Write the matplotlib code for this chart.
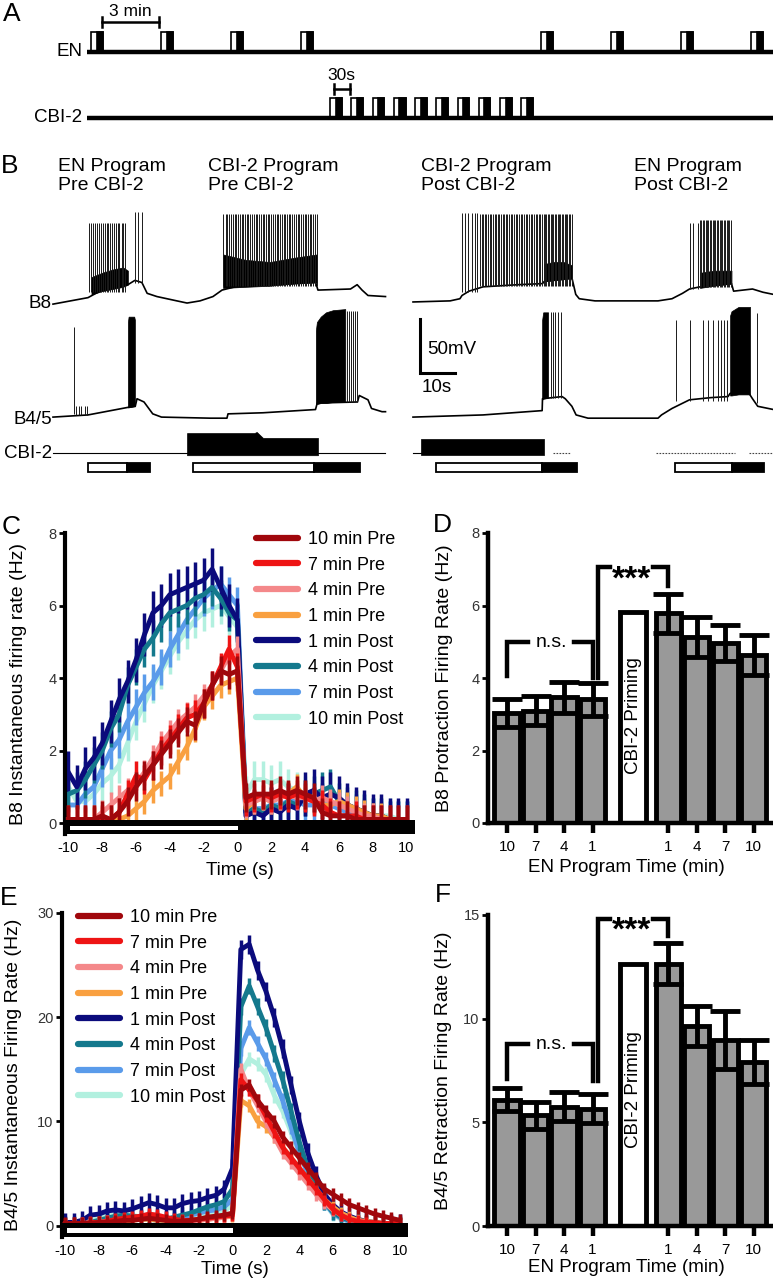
#!/usr/bin/env python3
import numpy as np
import matplotlib
matplotlib.use("Agg")
import matplotlib.pyplot as plt
from matplotlib.patches import Rectangle
from matplotlib.lines import Line2D

plt.rcParams["font.family"] = ["Liberation Sans", "DejaVu Sans"]
plt.rcParams["axes.unicode_minus"] = False

W, H = 773, 1280

# ---------------- Panel A: protocol (minutes) ----------------
EN_PULSES = [0, 3, 6, 9, 19.3, 22.3, 25.3, 28.3]
CBI2_PULSES = [10.25, 11.16, 12.07, 12.98, 13.89, 14.8, 15.71, 16.62, 17.53, 18.44]

# ---------------- Panel B: traces (s, mV) ----------------
# recording "pre" (left) and "post" (right)
B8_PRE_T = [0, 10, 13.4, 17.7, 21.4, 23.4, 25.4, 26.9, 29.7, 35.4, 38.3, 42, 45.7, 48.3, 52, 62,
            70.6, 75, 75.7, 85, 86.9, 88.3, 90, 95]
B8_PRE_V = [-61, -55, -49, -46, -43, -39, -41, -51, -54, -58, -60, -58, -54, -48, -45, -43,
            -41.5, -40.5, -48, -47, -43, -48, -53, -54]
B8_POST_T = [0, 10.6, 13.4, 14, 16, 20, 30, 37, 37.5, 45, 45.5, 46.5, 47.5, 52, 60, 70, 74, 77,
             79, 82, 91, 91.6, 97, 100, 103]
B8_POST_V = [-59, -58, -56, -53, -49, -45, -43, -42, -40, -37, -38, -52, -56, -58, -58, -58, -56,
             -51, -47, -45, -42, -49, -47, -50, -52]
B45_PRE_T = [0, 10, 21.4, 23.5, 24, 26, 28.5, 31, 45, 49.7, 50, 60, 75, 75.5, 87, 87.5, 90, 91,
             94, 95]
B45_PRE_V = [-60, -58, -51, -50, -43, -46, -57, -60, -61, -61, -57, -56, -53, -47, -46, -40, -44,
             -52, -55, -55]
B45_POST_T = [0, 20, 36.9, 37, 42.6, 43.5, 45.4, 46.6, 50, 70, 71, 74, 79, 85, 90, 90.6, 96, 97,
              98.5, 103]
B45_POST_V = [-60, -58, -54, -43, -41, -43, -50, -58, -61, -61, -58, -52, -44, -42, -41, -38, -38,
              -43, -50, -53]

# spike trains: (times, foot mV, peak mV)
B8_PRE_SPIKES = [
    ([10.3, 10.9, 11.5, 12.0, 12.6, 13.1, 13.7, 14.2, 14.8, 15.3, 15.8, 16.4, 16.9, 17.4, 18.0,
      18.5, 19.0, 19.6, 20.1, 20.6], -50, 14),
    ([23.4, 24.3, 25.4], -41, 24),
    ([48.7, 49.3, 49.8, 50.4, 50.9, 51.3, 51.9, 52.4, 52.8, 53.4, 53.9, 54.3, 54.9, 55.4, 55.8,
      56.4, 56.9, 57.3, 57.9, 58.4, 58.8, 59.4, 59.9, 60.3, 60.9, 61.4, 61.8, 62.4, 62.9, 63.3,
      63.9, 64.4, 64.8, 65.4, 65.9, 66.3, 66.9, 67.4, 67.8, 68.4, 68.9, 69.3, 69.9, 70.4, 70.8,
      71.4, 71.9, 72.3, 72.9, 73.4, 73.8, 74.4, 74.9, 75.3], -44, 22),
]
B8_POST_SPIKES = [
    ([14.0, 14.9, 15.7, 16.9, 17.7, 18.3], -50, 23),
    ([19.1, 19.6, 20.0, 20.5, 21.0, 21.4, 21.9, 22.4, 22.8, 23.3, 23.8, 24.2, 24.7, 25.2, 25.6,
      26.1, 26.6, 27.0, 27.5, 28.0, 28.4, 28.9, 29.4, 29.8, 30.3, 30.8, 31.2, 31.7, 32.2, 32.6,
      33.1, 33.6, 34.0, 34.5, 35.0, 35.4, 35.9, 36.4, 36.8, 37.3, 37.7, 38.1, 38.5, 38.9, 39.3,
      39.7, 40.1, 40.5, 40.9, 41.3, 41.7, 42.1, 42.5, 42.9, 43.3, 43.7, 44.1, 44.5, 44.9, 45.3],
     -44, 22),
    ([79.1, 80.1, 81.5], -47, 14),
    ([82.0, 82.4, 82.8, 83.2, 83.6, 84.0, 84.4, 84.8, 85.2, 85.6, 86.0, 86.4, 86.8, 87.2, 87.6,
      88.0, 88.4, 88.8, 89.2, 89.6, 90.0, 90.4, 90.8], -45, 17),
]
B45_PRE_SPIKES = [
    ([6.0], -57, 23),
    ([6.5, 7.3, 8.1, 9.0, 9.8], -58, -50),
    ([84.0, 84.6, 85.2, 85.8, 86.4, 86.9], -46, 38),
]
B45_POST_SPIKES = [
    ([39.3, 40.0, 40.6, 41.4, 42.3], -42, 37),
    ([75.1, 79.1, 82.9, 84.3, 85.7, 87.1, 88.0, 88.9, 89.7], -45, 30),
    ([98.3], -47, 36),
]
# dense firing drawn as solid blocks: (times, low mV, high mV)
B8_PRE_BLOCKS = [
    ([11, 14, 17, 20, 21.4], [-52, -49, -47, -45, -43], [-36, -32, -29, -27, -30]),
    ([48.6, 55, 62, 69, 75.4], [-46, -45, -44, -42, -41], [-15, -20, -22, -18, -15]),
]
B8_POST_BLOCKS = [
    ([37.4, 40, 43, 45.4], [-40, -39, -38, -37], [-24, -22, -22, -25]),
    ([82, 86, 91], [-46, -44, -42], [-32, -30, -30]),
]
B45_PRE_BLOCKS = [
    ([21.4, 21.6, 23.2, 23.4], [-51, -51, -50, -50], [28, 33, 33, 30]),
    ([75.1, 75.4, 76.5, 78, 80, 83.5], [-48, -48, -47, -47, -46, -46], [20, 28, 33, 37, 39, 40]),
]
B45_POST_BLOCKS = [
    ([36.9, 37.2, 38.6], [-44, -43, -42], [30, 37, 37]),
    ([90.6, 91, 93, 96.3], [-40, -40, -39, -39], [34, 38, 42, 42]),
]
CBI_PRE_BLOCK = ([38.3, 57.5, 58.2, 60, 75.7], [18.5, 18.5, 19.5, 14, 14])
CBI_POST_BLOCK = ([2.3, 37.4], [13, 13])
CBI_POST_FRAGMENTS = [(40, 45), (69.5, 92), (96, 103)]
# protraction (white) / retraction (black) phases: start, switch, end
STIM_PRE = [(10, 21.1, 27.7), (40, 74.6, 87.7)]
STIM_POST = [(6.6, 36.9, 46.9), (74.9, 91.1, 100.3)]

# ---------------- Panels C / E: firing rate time courses ----------------
TIME = np.arange(-10, 10.01, 0.5)
LABELS = ["10 min Pre", "7 min Pre", "4 min Pre", "1 min Pre",
          "1 min Post", "4 min Post", "7 min Post", "10 min Post"]
COLORS = ["#A0070C", "#EE1414", "#F4888A", "#F9A040",
          "#0B0B7C", "#14798D", "#5A9BEA", "#B2F0DF"]

C_PRE10 = [0.1, 0.1, 0.1, 0.1, 0.2, 0.1, 0.3, 0.6, 1.0, 1.3, 1.6, 1.9, 2.2, 2.5, 2.8, 2.7, 3.3, 3.8, 4.2, 4.1, 4.2,
           0.7, 0.8, 0.8, 0.8, 0.9, 0.8, 0.9, 0.8, 0.7, 0.3, 0.2, 0.2, 0.2, 0.1, 0.1, 0.1, 0.1, 0.1, 0.1, 0.1]
C_PRE7 = [0.1, 0.1, 0.1, 0.1, 0.1, 0.1, 0.3, 0.8, 1.3, 1.2, 1.6, 2.0, 2.3, 2.6, 2.9, 3.0, 3.3, 3.8, 4.3, 4.8, 4.3,
          0.6, 0.7, 0.8, 0.7, 0.8, 0.7, 0.8, 0.7, 0.6, 0.5, 0.3, 0.2, 0.2, 0.2, 0.1, 0.1, 0.1, 0.1, 0.1, 0.1]
C_PRE4 = [0.1, 0.1, 0.1, 0.1, 0.3, 0.5, 0.7, 0.9, 1.1, 1.4, 1.8, 2.2, 2.5, 2.8, 3.0, 3.2, 3.5, 3.8, 4.2, 4.6, 4.8,
          0.5, 0.6, 0.7, 0.6, 0.7, 0.8, 0.7, 0.7, 0.6, 0.7, 0.6, 0.5, 0.4, 0.3, 0.2, 0.2, 0.1, 0.1, 0.1, 0.1]
C_PRE1 = [0.1, 0.1, 0.1, 0.1, 0.1, 0.1, 0.1, 0.2, 0.4, 0.6, 0.9, 1.1, 1.3, 1.7, 2.1, 2.6, 3.2, 3.5, 3.8, 3.9, 4.0,
          0.4, 0.6, 0.7, 0.6, 0.7, 0.8, 1.0, 0.7, 0.6, 0.5, 0.5, 0.6, 0.5, 0.4, 0.3, 0.2, 0.2, 0.1, 0.1, 0.1]
C_POST1 = [1.4, 1.0, 1.5, 1.8, 2.2, 2.8, 3.4, 3.9, 4.5, 5.2, 5.8, 6.0, 6.3, 6.4, 6.5, 6.6, 6.7, 7.0, 6.5, 6.0, 5.6,
           0.2, 0.3, 0.2, 0.4, 0.3, 0.5, 0.4, 0.8, 0.9, 0.7, 0.8, 0.7, 0.5, 0.4, 0.3, 0.2, 0.2, 0.1, 0.1, 0.1]
C_POST4 = [0.8, 0.9, 1.2, 1.6, 2.0, 2.6, 3.0, 3.8, 4.3, 4.8, 5.1, 5.5, 5.8, 5.9, 6.0, 6.2, 6.3, 6.5, 6.2, 5.8, 5.6,
           0.3, 0.4, 0.3, 0.5, 0.4, 0.6, 0.5, 0.7, 0.8, 0.9, 1.0, 0.6, 0.5, 0.4, 0.3, 0.2, 0.2, 0.1, 0.1, 0.1]
C_POST7 = [0.5, 0.5, 0.8, 1.0, 1.5, 2.0, 2.3, 2.8, 3.2, 3.6, 3.9, 4.3, 4.8, 5.2, 5.6, 5.9, 6.2, 6.4, 6.6, 6.3, 6.0,
           0.3, 0.4, 0.4, 0.5, 0.5, 0.6, 0.6, 0.5, 0.5, 0.6, 0.5, 0.4, 0.3, 0.3, 0.2, 0.2, 0.1, 0.1, 0.1, 0.1]
C_POST10 = [1.0, 0.6, 0.6, 0.8, 1.1, 1.3, 1.6, 2.2, 2.8, 3.3, 3.8, 4.2, 4.6, 5.0, 5.3, 5.6, 5.8, 5.9, 6.0, 5.7, 5.4,
            0.8, 1.2, 1.2, 1.1, 1.2, 1.0, 0.9, 0.8, 0.7, 0.6, 0.5, 0.5, 0.4, 0.3, 0.3, 0.2, 0.2, 0.2, 0.1, 0.1]
C_SEM = [0.4, 0.4, 0.35, 0.35, 0.6, 0.5, 0.5, 0.5]

E_PRE10 = [0.2, 0.2, 0.2, 0.2, 0.3, 0.3, 0.4, 0.5, 0.5, 0.6, 0.7, 0.6, 0.5, 0.4, 0.4, 0.5, 0.6, 0.8, 0.9, 1.0, 1.2,
           13.0, 13.5, 12.0, 11.0, 10.0, 8.5, 7.5, 6.5, 5.5, 4.5, 3.5, 3.0, 2.5, 2.0, 1.7, 1.4, 1.1, 0.9, 0.7, 0.5]
E_PRE7 = [0.1, 0.2, 0.2, 0.3, 0.3, 0.4, 0.6, 0.7, 0.8, 0.9, 1.1, 1.0, 0.8, 0.6, 0.5, 0.5, 0.6, 0.7, 0.8, 0.9, 1.0,
          14.0, 13.0, 12.0, 10.5, 9.0, 7.5, 6.5, 5.5, 4.5, 3.5, 2.5, 1.6, 1.0, 0.6, 0.4, 0.3, 0.3, 0.2, 0.2, 0.2]
E_PRE4 = [0.1, 0.1, 0.2, 0.2, 0.3, 0.4, 0.5, 0.6, 0.7, 0.8, 0.9, 0.8, 0.7, 0.5, 0.4, 0.4, 0.5, 0.6, 0.7, 0.8, 1.0,
          15.0, 13.0, 11.5, 10.0, 8.5, 7.0, 6.0, 5.0, 4.0, 3.0, 2.2, 1.5, 1.0, 0.6, 0.4, 0.3, 0.2, 0.2, 0.1, 0.1]
E_PRE1 = [0.1, 0.1, 0.1, 0.2, 0.2, 0.3, 0.3, 0.4, 0.5, 0.6, 0.6, 0.5, 0.5, 0.4, 0.4, 0.5, 0.5, 0.6, 0.7, 0.8, 0.9,
          12.0, 11.5, 10.0, 9.5, 8.5, 7.5, 6.5, 5.5, 4.5, 3.5, 2.5, 1.8, 1.2, 0.8, 0.5, 0.4, 0.3, 0.2, 0.2, 0.2]
E_POST1 = [0.3, 0.3, 0.5, 1.0, 1.1, 1.4, 1.5, 1.4, 1.6, 1.9, 2.2, 2.0, 1.7, 1.7, 2.1, 2.3, 2.4, 2.7, 2.9, 3.5, 5.5,
           26.5, 27.0, 24.5, 22.5, 20.0, 17.0, 13.5, 10.0, 7.0, 4.8, 3.0, 2.0, 1.3, 0.9, 0.6, 0.4, 0.3, 0.2, 0.2, 0.2]
E_POST4 = [0.1, 0.1, 0.1, 0.3, 0.5, 0.7, 0.9, 1.0, 0.9, 0.8, 0.7, 0.6, 0.6, 0.8, 1.0, 1.2, 1.5, 1.8, 2.0, 2.3, 3.5,
           21.0, 23.0, 21.0, 19.0, 16.5, 14.0, 11.0, 8.0, 5.5, 3.8, 2.3, 1.3, 0.8, 0.5, 0.3, 0.2, 0.2, 0.1, 0.1, 0.1]
E_POST7 = [0.1, 0.1, 0.1, 0.2, 0.4, 0.6, 0.8, 0.9, 0.8, 0.7, 0.6, 0.5, 0.5, 0.6, 0.8, 1.0, 1.2, 1.4, 1.5, 1.8, 2.5,
           17.0, 19.0, 17.5, 16.0, 14.0, 12.0, 9.5, 7.0, 5.0, 3.5, 2.2, 1.2, 0.7, 0.4, 0.3, 0.2, 0.1, 0.1, 0.1, 0.1]
E_POST10 = [0.1, 0.1, 0.2, 0.4, 0.7, 1.0, 1.2, 1.2, 1.0, 0.8, 0.6, 0.5, 0.5, 0.6, 0.7, 0.8, 1.0, 1.1, 1.2, 1.4, 2.0,
            14.5, 16.0, 15.5, 14.5, 12.5, 11.0, 9.0, 7.0, 5.0, 3.5, 2.2, 1.1, 0.6, 0.4, 0.3, 0.2, 0.1, 0.1, 0.1, 0.1]
E_SEM = [0.6, 0.6, 0.6, 0.6, 0.9, 0.8, 0.7, 0.7]

# ---------------- Panels D / F: bar charts ----------------
BAR_LABELS = ["10", "7", "4", "1", "1", "4", "7", "10"]
D_PRE = [3.04, 3.10, 3.47, 3.41]
D_PRE_SEM = [0.38, 0.40, 0.43, 0.45]
D_POST = [5.78, 5.14, 4.97, 4.63]
D_POST_SEM = [0.55, 0.55, 0.50, 0.55]
D_PRIMING = 5.82
F_PRE = [6.1, 5.35, 5.75, 5.65]
F_PRE_SEM = [0.55, 0.65, 0.7, 0.7]
F_POST = [12.65, 9.65, 8.95, 7.9]
F_POST_SEM = [1.0, 0.95, 1.4, 1.05]
F_PRIMING = 12.65


def px_axes(fig, x0, y0, x1, y1):
    return fig.add_axes([x0 / W, 1 - y1 / H, (x1 - x0) / W, (y1 - y0) / H])


def ftext(fig, x, y, s, **kw):
    fig.text(x / W, 1 - y / H, s, **kw)


def panel_a(fig):
    ax = px_axes(fig, 0, 0, W, 140)
    ax.set_xlim(-3.9, 29.23)
    ax.set_ylim(140, 0)
    ax.axis("off")
    for y_line, pulses in ((52, EN_PULSES), (118, CBI2_PULSES)):
        ax.plot([-0.17, 29.23], [y_line, y_line], color="k", lw=3.2, solid_capstyle="butt")
        for t in pulses:
            ax.add_patch(Rectangle((t, y_line - 20), 0.5, 20, fc="white", ec="k", lw=1.2))
            ax.add_patch(Rectangle((t + 0.24, y_line - 20), 0.26, 20, fc="k", ec="k", lw=1.2))
    # scale bars
    ax.plot([0.47, 2.92], [22, 22], color="k", lw=1.8)
    ax.plot([0.47, 0.47], [17, 27], color="k", lw=1.8)
    ax.plot([2.92, 2.92], [17, 27], color="k", lw=1.8)
    ax.text(1.7, 11.5, "3 min", ha="center", va="center", fontsize=12.5)
    ax.plot([10.4, 11.1], [89, 89], color="k", lw=1.8)
    ax.plot([10.4, 10.4], [84, 94], color="k", lw=1.8)
    ax.plot([11.1, 11.1], [84, 94], color="k", lw=1.8)
    ax.text(10.75, 76, "30s", ha="center", va="center", fontsize=12.5)
    ftext(fig, 82, 52, "EN", ha="right", va="center", fontsize=13.5)
    ftext(fig, 82, 118, "CBI-2", ha="right", va="center", fontsize=13.5)


def panel_b(fig):
    ax = px_axes(fig, 0, 150, W, 490)
    ax.set_xlim(-53 / 3.5, (W - 53) / 3.5)
    ax.set_ylim(-233.1, 81.7)
    ax.axis("off")
    post_shift = (413 - 53) / 3.5
    b45_off = -105.6
    cbi_off = -198.9
    recs = [
        (0.0, (B8_PRE_T, B8_PRE_V, B8_PRE_SPIKES, B8_PRE_BLOCKS),
         (B45_PRE_T, B45_PRE_V, B45_PRE_SPIKES, B45_PRE_BLOCKS)),
        (post_shift, (B8_POST_T, B8_POST_V, B8_POST_SPIKES, B8_POST_BLOCKS),
         (B45_POST_T, B45_POST_V, B45_POST_SPIKES, B45_POST_BLOCKS)),
    ]
    for shift, b8, b45 in recs:
        for (tt, vv, spikes, blocks), off in ((b8, 0.0), (b45, b45_off)):
            ax.plot(np.array(tt) + shift, np.array(vv) + off, color="k", lw=1.2)
            for bt, lo, hi in blocks:
                ax.fill_between(np.array(bt) + shift, np.array(lo) + off, np.array(hi) + off,
                                color="k", lw=0.5)
            for times, foot, peak in spikes:
                ax.vlines(np.array(times) + shift, foot + off, peak + off, color="#1a1a1a", lw=0.7)
    # CBI-2 trace
    ax.plot([0, 95], [cbi_off, cbi_off], color="k", lw=0.8)
    bt, hi = CBI_PRE_BLOCK
    ax.fill_between(bt, cbi_off - 2, np.array(hi) + cbi_off, color="k", lw=0.5)
    ax.plot([post_shift, post_shift + 2.3], [cbi_off, cbi_off], color="k", lw=0.8)
    bt, hi = CBI_POST_BLOCK
    ax.fill_between(np.array(bt) + post_shift, cbi_off - 2, np.array(hi) + cbi_off, color="k", lw=0.5)
    for a, b in CBI_POST_FRAGMENTS:
        ax.plot([a + post_shift, b + post_shift], [cbi_off, cbi_off], color="#444444", lw=0.8,
                ls=(0, (1.5, 1.2)))
    # phase bars
    y0, hgt = -216.5, 8.3
    for shift, stims in ((0.0, STIM_PRE), (post_shift, STIM_POST)):
        for a, s, b in stims:
            ax.add_patch(Rectangle((a + shift, y0), s - a, hgt, fc="white", ec="k", lw=1.3))
            ax.add_patch(Rectangle((s + shift, y0), b - s, hgt, fc="k", ec="k", lw=1.3))
    # scale bar 50 mV / 10 s
    sx, sy = (420 - 53) / 3.5, -124.8
    ax.plot([sx, sx, sx + 10], [sy + 50, sy, sy], color="k", lw=2.2, solid_joinstyle="miter")
    ftext(fig, 427, 350, "50mV", ha="left", va="center", fontsize=13.5)
    ftext(fig, 422, 388, "10s", ha="left", va="center", fontsize=13.5)
    ftext(fig, 52, 303, "B8", ha="right", va="center", fontsize=13.5)
    ftext(fig, 52, 419, "B4/5", ha="right", va="center", fontsize=13.5)
    ftext(fig, 52, 453, "CBI-2", ha="right", va="center", fontsize=13.5)
    for x, s in ((58, "EN Program\nPre CBI-2"), (208, "CBI-2 Program\nPre CBI-2"),
                 (421, "CBI-2 Program\nPost CBI-2"), (634, "EN Program\nPost CBI-2")):
        ftext(fig, x, 158, s, ha="left", va="top", fontsize=14, linespacing=1.15)


def rate_panel(fig, box, series, sems, ymax, ybar, ywhite, yticks, ylabel, ylabel_x, legend_xy,
               xlabel_y):
    ax = px_axes(fig, *box)
    ax.set_xlim(-10.2, 10.5)
    ax.set_ylim(ybar[0], ymax)
    order = [7, 6, 5, 4, 3, 2, 1, 0]
    for i in order:
        ax.errorbar(TIME, series[i], yerr=sems[i], color=COLORS[i], lw=3.5, elinewidth=2.5,
                    capsize=0, zorder=2 + (7 - i) * 0.1, solid_joinstyle="round")
    ax.add_patch(Rectangle((-10.2, ybar[0]), 20.7, ybar[1] - ybar[0], fc="k", ec="none",
                           zorder=5, clip_on=False))
    ax.add_patch(Rectangle((-9.9, ywhite[0]), 9.95, ywhite[1] - ywhite[0], fc="white",
                           ec="none", zorder=6, clip_on=False))
    for s in ("top", "right", "bottom"):
        ax.spines[s].set_visible(False)
    ax.spines["left"].set_linewidth(3)
    ax.set_yticks(yticks)
    ax.set_xticks(range(-10, 11, 2))
    ax.tick_params(axis="x", length=0, pad=5, labelsize=10.5)
    ax.tick_params(axis="y", direction="out", length=4, width=2, pad=2, labelsize=10.5,
                   labelcolor="#333333")
    ax.set_ylabel(ylabel, fontsize=14)
    ax.yaxis.set_label_coords(ylabel_x, 0.5)
    ax.set_xlabel("Time (s)", fontsize=13.5)
    ax.xaxis.set_label_coords(0.5, xlabel_y)
    handles = [Line2D([], [], color=c, lw=4.5, solid_capstyle="round") for c in COLORS]
    ax.legend(handles, LABELS, loc="upper left",
              bbox_to_anchor=(legend_xy[0] / W, 1 - legend_xy[1] / H),
              bbox_transform=fig.transFigure, frameon=False, fontsize=13, handlelength=2.3,
              handletextpad=0.6, labelspacing=0.48, borderpad=0, borderaxespad=0)
    return ax


def bracket(ax, x0, x1, y_left, y_top, y_right, text, tx, half, fs, star):
    kw = dict(color="k", lw=3.2, solid_capstyle="projecting", solid_joinstyle="miter")
    ax.plot([x0, x0, tx - half], [y_left, y_top, y_top], **kw)
    ax.plot([tx + half, x1, x1], [y_top, y_top, y_right], **kw)
    off = -0.62 * fs if star else -0.28 * fs
    ax.annotate(text, (tx, y_top), xytext=(0, off), textcoords="offset points", ha="center",
                va="baseline", fontsize=fs, fontweight="bold" if star else "normal")


def bar_panel(fig, box, pre, pre_sem, post, post_sem, priming, ymax, yticks, ylabel, ylabel_x,
              xlabel_y, prime_text_y, ns_levels, star_levels):
    ax = px_axes(fig, *box)
    pos_pre = np.arange(4)
    pos_prime = 4.42
    pos_post = 5.65 + np.arange(4)
    ax.set_xlim(-0.667, 9.33)
    ax.set_ylim(0, ymax)
    bkw = dict(width=0.88, edgecolor="k", linewidth=3.5, zorder=2)
    ax.bar(pos_pre, pre, color="#999999", **bkw)
    ax.bar(pos_post, post, color="#999999", **bkw)
    ax.bar([pos_prime], [priming], color="white", **bkw)
    ekw = dict(fmt="none", ecolor="k", elinewidth=3.5, capsize=11, capthick=3.5, zorder=3)
    ax.errorbar(pos_pre, pre, yerr=pre_sem, **ekw)
    ax.errorbar(pos_post, post, yerr=post_sem, **ekw)
    ax.text(pos_prime, prime_text_y, "CBI-2 Priming", rotation=90, ha="center", va="center",
            fontsize=13.5)
    for s in ("top", "right"):
        ax.spines[s].set_visible(False)
    ax.spines["left"].set_linewidth(3.2)
    ax.spines["bottom"].set_linewidth(3.2)
    ax.set_xticks(list(pos_pre) + list(pos_post))
    ax.set_xticklabels(BAR_LABELS)
    ax.set_yticks(yticks)
    ax.tick_params(axis="x", direction="out", length=7, width=3.2, pad=5, labelsize=11)
    ax.tick_params(axis="y", direction="out", length=4, width=2, pad=2, labelsize=10.5,
                   labelcolor="#333333")
    ax.set_ylabel(ylabel, fontsize=14)
    ax.yaxis.set_label_coords(ylabel_x, 0.5)
    ax.set_xlabel("EN Program Time (min)", fontsize=13.5)
    ax.xaxis.set_label_coords(0.484, xlabel_y)
    bracket(ax, pos_pre[0], pos_pre[3], ns_levels[0], ns_levels[1], ns_levels[2], "n.s.",
            1.55, 0.8, 14, False)
    bracket(ax, 3.18, pos_post[0], star_levels[0], star_levels[1], star_levels[2], "***",
            4.37, 0.75, 24, True)
    return ax


def main() -> int:
    fig = plt.figure(figsize=(W / 100, H / 100), dpi=100)
    panel_a(fig)
    panel_b(fig)
    c_series = [C_PRE10, C_PRE7, C_PRE4, C_PRE1, C_POST1, C_POST4, C_POST7, C_POST10]
    e_series = [E_PRE10, E_PRE7, E_PRE4, E_PRE1, E_POST1, E_POST4, E_POST7, E_POST10]
    rate_panel(fig, (65, 533, 415, 834), c_series, C_SEM, 8, (-0.3, 0.08), (-0.19, -0.08),
               [0, 2, 4, 6, 8], "B8 Instantaneous firing rate (Hz)", -0.109, (256, 531), -0.092)
    rate_panel(fig, (62, 913, 408, 1237), e_series, E_SEM, 30, (-1.1, 0.25), (-0.7, -0.2),
               [0, 10, 20, 30], "B4/5 Instantaneous Firing Rate (Hz)", -0.116, (78, 909), -0.073)
    bar_panel(fig, (488, 533, 773, 823), D_PRE, D_PRE_SEM, D_POST, D_POST_SEM, D_PRIMING, 8,
              [0, 2, 4, 6, 8], "B8 Protraction Firing Rate (Hz)", -0.123, -0.125, 2.95,
              (4.05, 5.0, 4.0), (4.0, 7.05, 6.55))
    bar_panel(fig, (488, 915, 773, 1226), F_PRE, F_PRE_SEM, F_POST, F_POST_SEM, F_PRIMING, 15,
              [0, 5, 10, 15], "B4/5 Retraction Firing Rate (Hz)", -0.126, -0.107, 6.6,
              (7.1, 8.8, 7.0), (7.0, 14.8, 14.0))
    for x, y, s in ((12, 14, "A"), (10, 166, "B"), (11, 527, "C"), (442, 525, "D"),
                    (9, 898, "E"), (443, 895, "F")):
        ftext(fig, x, y, s, ha="center", va="center", fontsize=19)
    fig.savefig("out.png", dpi=100)
    plt.close(fig)
    return 0


if __name__ == "__main__":
    raise SystemExit(main())
